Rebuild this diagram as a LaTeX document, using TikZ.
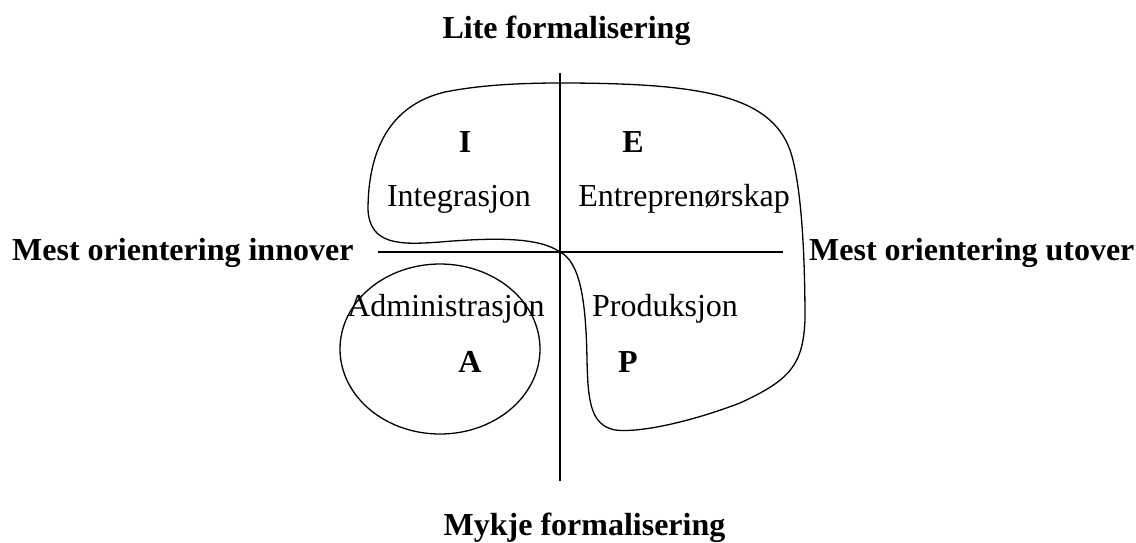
\documentclass[tikz,border=0pt]{standalone}
\usepackage{fontspec}
\setmainfont{Liberation Serif}
\begin{document}
\begin{tikzpicture}[x=1pt,y=-1pt,
  lbl/.style={inner sep=0pt,anchor=base,font=\fontsize{32}{38}\selectfont},
  bold/.style={lbl,font=\fontsize{32}{38}\selectfont\bfseries},
  curve/.style={line width=1.3pt,line join=round}]
\useasboundingbox (0,0) rectangle (1136,542);

% axes
\coordinate (axtop) at (560,73);
\coordinate (axbot) at (560,481);
\coordinate (axleft) at (378,252);
\coordinate (axright) at (783,252);
\draw[line width=1.3pt] (axtop) -- (axbot);
\draw[line width=1.3pt] (axleft) -- (axright);

% axis labels
\node[bold] (lite) at (566.5,38) {Lite formalisering};
\node[bold] (mykje) at (584.5,535) {Mykje formalisering};
\node[bold,anchor=base west] (innover) at (12,260) {Mest orientering innover};
\node[bold,anchor=base west] (utover) at (809,260) {Mest orientering utover};

% region I + E + P outline
\draw[curve] (560,83)
  .. controls (700,83) and (770,95) .. (790,150)
  .. controls (802,185) and (805,260) .. (805,320)
  .. controls (803,365) and (790,380) .. (740,403)
  .. controls (690,422) and (640,433) .. (615,430)
  .. controls (590,425) and (588,400) .. (587,360)
  .. controls (586,300) and (580,262) .. (560,252)
  .. controls (540,238) and (500,237) .. (440,242)
  .. controls (400,245) and (370,245) .. (368,210)
  .. controls (368,150) and (390,105) .. (445,92)
  .. controls (480,85) and (520,83) .. (560,83) -- cycle;

% region A
\draw[curve] (440,349) ellipse [x radius=100, y radius=85];

% quadrant labels
\node[bold] (I) at (465,152) {I};
\node[bold] (E) at (633,152) {E};
\node[lbl] (integ) at (459,206) {Integrasjon};
\node[lbl] (entre) at (684,206) {Entreprenørskap};
\node[lbl] (admin) at (446,316) {Administrasjon};
\node[lbl] (prod) at (665,316) {Produksjon};
\node[bold] (A) at (470,372) {A};
\node[bold] (P) at (628,372) {P};
\end{tikzpicture}
\end{document}
